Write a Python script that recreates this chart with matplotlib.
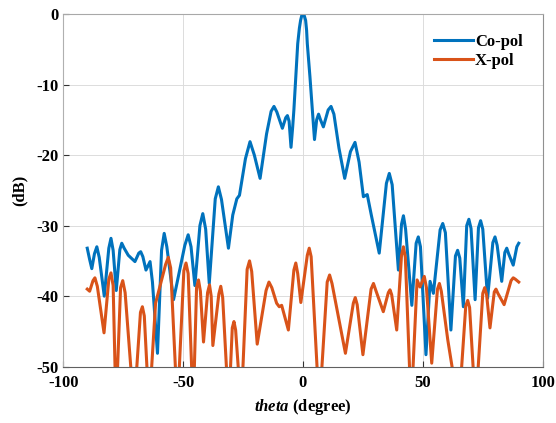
import matplotlib
matplotlib.use('Agg')
import matplotlib.pyplot as plt

# valores (theta em graus, nivel em dB)
co_theta = [-90.0, -89.0, -88.1, -87.0, -86.0, -85.0, -82.9, -81.0, -80.1, -79.2,
            -77.9, -76.4, -75.6, -74.6, -72.9, -70.1, -68.5, -67.7, -66.8, -65.5,
            -63.8, -62.8, -60.7, -59.0, -57.9, -56.8, -54.0, -49.3, -47.9, -46.7,
            -45.1, -43.0, -41.8, -40.6, -39.1, -36.6, -35.3, -34.0, -31.1, -29.3,
            -27.6, -26.5, -24.0, -22.1, -20.3, -17.9, -15.2, -13.3, -12.1, -10.9,
            -8.6, -7.2, -6.5, -5.8, -5.0, -4.3, -3.8, -3.0, -2.2, -1.5,
            -1.0, -0.5, 0.0, 0.5, 1.1, 1.5, 1.8, 2.9, 3.9, 4.8,
            5.7, 6.5, 7.3, 8.5, 10.5, 11.7, 12.9, 15.0, 17.4, 19.8,
            21.7, 23.4, 25.2, 26.8, 28.5, 31.8, 34.8, 36.0, 37.2, 39.8,
            41.1, 41.9, 42.8, 45.4, 47.2, 48.1, 49.0, 51.3, 53.0, 54.4,
            57.2, 58.3, 59.4, 61.7, 63.6, 64.5, 65.4, 66.9, 68.3, 69.2,
            70.1, 71.8, 73.2, 74.1, 75.0, 77.0, 79.2, 80.1, 81.0, 82.9,
            84.2, 85.0, 85.8, 87.7, 89.2, 90.0]
co_db = [-33.2, -34.8, -36.1, -34.0, -33.0, -34.5, -40.0, -33.2, -31.8, -33.5,
         -39.2, -33.4, -32.5, -33.2, -34.2, -35.1, -33.9, -33.7, -34.4, -36.3,
         -35.1, -38.0, -48.1, -33.5, -31.1, -33.0, -40.5, -32.8, -31.3, -33.0,
         -38.5, -30.0, -28.3, -30.5, -38.2, -26.2, -24.5, -26.3, -33.2, -28.5,
         -26.2, -25.7, -20.5, -18.1, -20.0, -23.3, -17.0, -13.8, -13.1, -13.9,
         -16.2, -14.7, -14.4, -15.2, -18.9, -16.0, -13.6, -8.9, -4.2, -2.0,
         -0.9, -0.2, 0.0, -0.2, -0.9, -2.3, -4.2, -8.9, -13.6, -17.8,
         -15.0, -14.2, -15.0, -16.0, -13.6, -13.1, -14.2, -19.0, -23.3, -19.5,
         -18.2, -21.0, -25.9, -25.6, -28.5, -33.9, -24.0, -22.6, -24.2, -36.3,
         -29.8, -28.6, -30.5, -41.3, -32.5, -31.6, -33.0, -48.3, -37.9, -39.6,
         -30.6, -29.7, -31.0, -44.8, -34.3, -33.5, -34.6, -41.5, -30.0, -29.1,
         -30.4, -40.5, -30.3, -29.3, -30.5, -40.3, -32.4, -31.6, -32.8, -37.9,
         -33.8, -33.2, -34.0, -35.6, -33.0, -32.5]

x_theta = [-90.0, -89.0, -87.6, -86.8, -85.8, -83.0, -81.0, -80.1, -79.2, -78.0,
           -76.1, -75.2, -74.2, -70.5, -67.8, -67.0, -66.2, -64.2, -61.5, -57.3,
           -56.2, -55.2, -52.4, -49.7, -48.8, -47.9, -45.8, -44.4, -43.6, -42.8,
           -41.5, -39.8, -39.0, -38.3, -37.6, -35.1, -34.3, -33.5, -31.0, -29.5,
           -28.8, -28.1, -25.8, -23.3, -22.3, -21.4, -19.1, -15.4, -14.2, -13.0,
           -11.0, -9.9, -8.9, -6.1, -3.8, -3.0, -2.2, -0.9, 1.8, 2.6,
           3.4, 6.8, 10.1, 11.1, 12.1, 17.7, 21.0, 21.8, 22.6, 25.0,
           28.4, 29.4, 30.4, 33.5, 35.6, 36.3, 37.0, 39.1, 41.1, 41.9,
           42.7, 45.1, 47.6, 48.8, 50.6, 51.5, 53.7, 56.1, 56.9, 57.7,
           60.4, 65.0, 67.9, 68.7, 69.5, 72.0, 75.0, 75.8, 76.6, 78.0,
           79.8, 80.5, 81.3, 83.9, 86.8, 87.7, 88.6, 90.0]
x_db = [-39.0, -39.3, -37.8, -37.4, -38.6, -45.2, -37.6, -36.7, -38.5, -56,
        -38.8, -37.8, -39.5, -56, -42.3, -41.5, -42.8, -56, -41.0, -35.5,
        -34.5, -36.0, -56, -36.4, -35.3, -36.8, -56, -38.8, -37.7, -39.3,
        -46.5, -39.5, -38.4, -40.0, -47.0, -39.7, -38.6, -40.2, -56, -44.5,
        -43.6, -44.8, -56, -36.2, -35.0, -36.5, -46.8, -39.2, -38.0, -38.8,
        -41.0, -41.5, -41.3, -44.8, -36.3, -35.3, -36.8, -40.9, -34.2, -33.2,
        -34.4, -56, -38.0, -37.0, -38.2, -48.1, -41.0, -40.2, -41.2, -48.3,
        -39.0, -38.2, -39.2, -42.2, -39.5, -39.1, -39.8, -44.8, -34.2, -33.0,
        -34.5, -56, -37.7, -38.7, -37.2, -38.8, -49.5, -39.0, -38.2, -39.3,
        -46.2, -56, -41.4, -40.6, -41.6, -56, -39.6, -38.8, -39.8, -44.5,
        -39.4, -39.0, -39.6, -41.2, -37.8, -37.4, -37.6, -38.0]

x_ticks = [-100, -50, 0, 50, 100]
y_ticks = [-50, -40, -30, -20, -10, 0]

plt.rcParams['font.family'] = 'Liberation Serif'
plt.rcParams['font.weight'] = 'bold'
plt.rcParams['axes.unicode_minus'] = False
plt.rcParams['mathtext.fontset'] = 'custom'
plt.rcParams['mathtext.it'] = 'Liberation Serif:italic:bold'
plt.rcParams['mathtext.rm'] = 'Liberation Serif:bold'

fig = plt.figure(figsize=(5.56, 4.23), dpi=100)
ax = fig.add_axes([0.1138, 0.1331, 0.8623, 0.8338])

ax.plot(co_theta, co_db, color='#0072BD', linewidth=2.2, solid_joinstyle='round', label='Co-pol')
ax.plot(x_theta, x_db, color='#D95319', linewidth=2.2, solid_joinstyle='round', label='X-pol')

ax.set_xlim(-100, 100)
ax.set_ylim(-50, 0)
ax.set_xticks(x_ticks)
ax.set_yticks(y_ticks)
ax.grid(True, color='#dcdcdc', linewidth=0.7)
ax.set_axisbelow(True)

ax.tick_params(direction='in', length=4, width=0.8, labelsize=12, color='#333333')
ax.tick_params(axis='x', pad=6)
for lbl in ax.get_xticklabels() + ax.get_yticklabels():
    lbl.set_fontweight('bold')

ax.spines['top'].set_color('#a8a8a8')
ax.spines['right'].set_color('#909090')
ax.spines['left'].set_color('#b0b0b0')
ax.spines['bottom'].set_color('#606060')

ax.set_xlabel(r'$\mathit{theta}$ (degree)', fontsize=12, fontweight='bold', labelpad=4)
ax.set_ylabel('(dB)', fontsize=12, fontweight='bold', labelpad=6)

ax.legend(loc='upper right', bbox_to_anchor=(0.99, 0.985), frameon=False,
          handlelength=2.3, handletextpad=0.15, labelspacing=0.15,
          prop={'family': 'Liberation Serif', 'weight': 'bold', 'size': 12})

fig.savefig('out.png', dpi=100)
